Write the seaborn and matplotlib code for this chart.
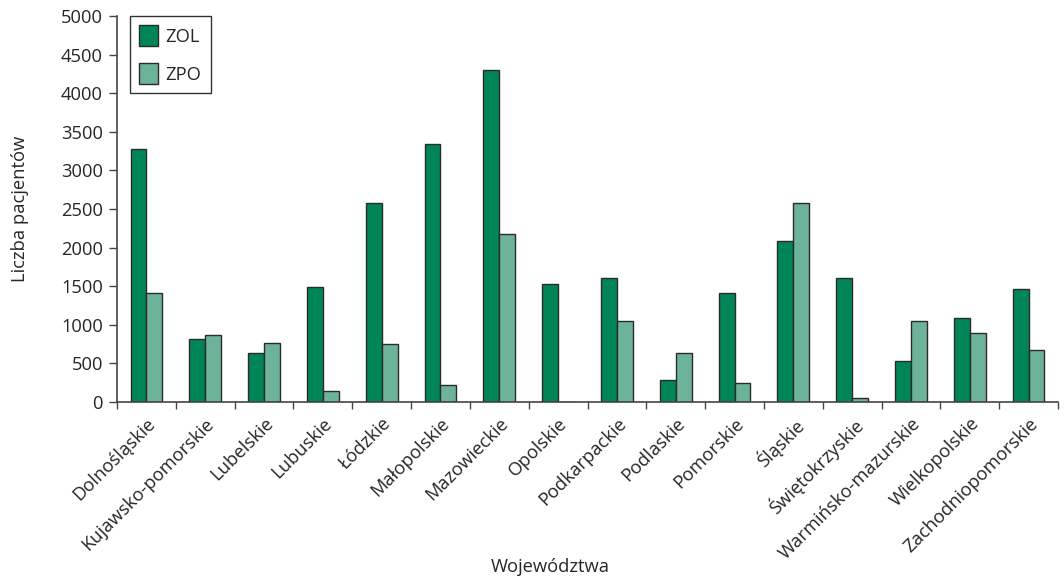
import matplotlib
matplotlib.use("Agg")
import matplotlib.pyplot as plt
import seaborn as sns
import pandas as pd
import numpy as np
from matplotlib.ticker import FixedLocator
from matplotlib.patches import Patch

regions = ["Dolnośląskie", "Kujawsko-pomorskie", "Lubelskie", "Lubuskie", "Łódzkie",
           "Małopolskie", "Mazowieckie", "Opolskie", "Podkarpackie", "Podlaskie",
           "Pomorskie", "Śląskie", "Świętokrzyskie", "Warmińsko-mazurskie",
           "Wielkopolskie", "Zachodniopomorskie"]
zol = [3280, 810, 630, 1490, 2580, 3340, 4300, 1530, 1600, 280, 1410, 2080, 1610, 530, 1090, 1460]
zpo = [1410, 870, 760, 140, 745, 220, 2170, 0, 1050, 630, 250, 2580, 50, 1050, 890, 675]
series = ["ZOL", "ZPO"]
colors = ["#008556", "#6db39a"]

df = pd.DataFrame({"Województwo": regions * 2,
                   "Liczba": zol + zpo,
                   "Typ": ["ZOL"] * len(regions) + ["ZPO"] * len(regions)})

sns.set_theme(style="white")
plt.rcParams['font.family'] = ['Open Sans', 'DejaVu Sans']

FS = 13.2
fig = plt.figure(figsize=(10.64, 5.79), dpi=100)
ax = fig.add_axes([117/1064, 1 - 402/579, (1058-117)/1064, (402-16)/579])

sns.barplot(data=df, x="Województwo", y="Liczba", hue="Typ", palette=colors,
            width=0.54, edgecolor="#2a2a2a", linewidth=1.0, ax=ax, legend=False,
            saturation=1)

ax.set_xlim(-0.5, len(regions) - 0.5)
ax.set_ylim(0, 5000)
ax.set_yticks(np.arange(0, 5001, 500))
ax.tick_params(axis="y", labelsize=FS, length=6, width=1, color="#444444", direction="out", left=True, pad=4)
ax.tick_params(axis="x", which="major", length=0, labelsize=FS, pad=9)
ax.xaxis.set_minor_locator(FixedLocator(np.arange(-0.5, len(regions), 1.0)))
ax.tick_params(axis="x", which="minor", length=5, width=1, color="#444444", direction="out", bottom=True)
ax.set_xticks(range(len(regions)))
ax.set_xticklabels(regions, rotation=45, ha="right", rotation_mode="anchor")

for s in ["top", "right"]:
    ax.spines[s].set_visible(False)
for s in ["left", "bottom"]:
    ax.spines[s].set_color("#444444")
    ax.spines[s].set_linewidth(1.2)

ax.set_xlabel("Województwa", fontsize=FS)
ax.xaxis.set_label_coords((550 - 117) / 941, -(567 - 402) / 386, transform=ax.transAxes)
ax.xaxis.label.set_va("center")
ax.set_ylabel("Liczba pacjentów", fontsize=FS)
ax.yaxis.set_label_coords(-(117 - 20) / 941, 0.5, transform=ax.transAxes)
ax.yaxis.label.set_va("center")

handles = [Patch(facecolor=c, edgecolor="#2a2a2a", label=s) for c, s in zip(colors, series)]
leg = ax.legend(handles=handles, loc="upper left", bbox_to_anchor=(13/941, 1.0),
                frameon=True, fancybox=False, fontsize=FS, handlelength=1.05,
                handleheight=1.35, labelspacing=0.95, borderpad=0.5, handletextpad=0.4,
                borderaxespad=0)
leg.get_frame().set_edgecolor("black")
leg.get_frame().set_linewidth(1.0)

fig.savefig("out.png", dpi=100)
